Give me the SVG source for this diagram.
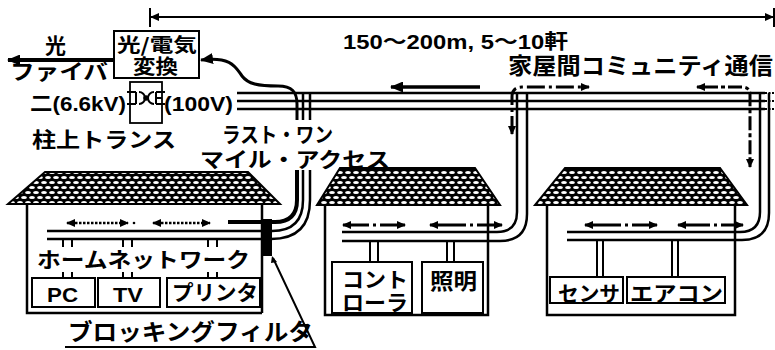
<svg xmlns="http://www.w3.org/2000/svg" width="775" height="350" viewBox="0 0 775 350">
  <defs>
    <pattern id="tile" width="8" height="10" patternUnits="userSpaceOnUse">
      <rect width="8" height="10" fill="#000"/>
      <ellipse cx="4" cy="2.5" rx="2.9" ry="1.5" fill="#fff"/>
      <ellipse cx="0" cy="7.5" rx="2.9" ry="1.5" fill="#fff"/>
      <ellipse cx="8" cy="7.5" rx="2.9" ry="1.5" fill="#fff"/>
    </pattern>
    <marker id="ah" markerUnits="userSpaceOnUse" markerWidth="13" markerHeight="11" refX="12" refY="5.5" orient="auto-start-reverse">
      <path d="M0,0 L13,5.5 L0,11 z" fill="#000"/>
    </marker>
    <marker id="ahs" markerUnits="userSpaceOnUse" markerWidth="9" markerHeight="8" refX="8" refY="4" orient="auto-start-reverse">
      <path d="M0,0 L9,4 L0,8 z" fill="#000"/>
    </marker>
    <style>
      .t { font-family: "Liberation Sans", "Noto Sans CJK JP", sans-serif; font-weight: bold; fill: #000; }
      .j { font-family: "Noto Sans CJK JP", sans-serif; font-weight: bold; fill: #000; }
      .ln { fill: none; stroke: #000; stroke-width: 2.5; }
      .thin { fill: none; stroke: #000; stroke-width: 2; }
      .box { fill: #fff; stroke: #000; stroke-width: 2; }
      .roof { fill: url(#tile); stroke: #000; stroke-width: 2; }
      .dot2 { fill: none; stroke: #000; stroke-width: 2.5; stroke-dasharray: 2.5 1.5; }
      .dd { fill: none; stroke: #000; stroke-width: 3; }
    </style>
  </defs>
  <rect width="775" height="350" fill="#fff"/>

  <!-- span dimension -->
  <g id="span">
    <line x1="150" y1="8" x2="150" y2="27" class="thin"/>
    <line x1="774" y1="8" x2="774" y2="27" class="thin"/>
    <line x1="151" y1="17" x2="773" y2="17" class="thin" marker-start="url(#ahs)" marker-end="url(#ahs)"/>
    <text class="t" x="343" y="49" font-size="20" textLength="225" lengthAdjust="spacingAndGlyphs">150～200m, 5～10軒</text>
  </g>

  <text class="j" x="508" y="74" font-size="23" textLength="265" lengthAdjust="spacingAndGlyphs">家屋間コミュニティ通信</text>

  <!-- optical / electrical converter -->
  <g id="converter">
    <rect x="114" y="31" width="85" height="47" class="box"/>
    <text class="j" x="117" y="52" font-size="19" textLength="80" lengthAdjust="spacingAndGlyphs">光/電気</text>
    <text class="j" x="133" y="74" font-size="20" textLength="45" lengthAdjust="spacingAndGlyphs">変換</text>
  </g>

  <!-- optical fibre -->
  <g id="fiber">
    <line x1="113" y1="60" x2="8" y2="60" stroke="#000" stroke-width="4" marker-end="url(#ah)"/>
    <text class="j" x="45" y="53" font-size="21">光</text>
    <text class="j" x="10" y="79" font-size="21" textLength="98" lengthAdjust="spacingAndGlyphs">ファイバ</text>
  </g>

  <!-- pole transformer -->
  <g id="transformer">
    <text class="t" x="30" y="111" font-size="20" textLength="96" lengthAdjust="spacingAndGlyphs">二(6.6kV)</text>
    <rect x="130" y="82" width="32" height="41" fill="none" stroke="#000" stroke-width="1.8"/>
    <path d="M127,92 H136 M127,104 H136 M136,92 V104" class="thin"/>
    <path d="M139,92 A6,6 0 0 1 139,104" class="thin"/>
    <circle cx="146" cy="98" r="2.8" fill="#000"/>
    <path d="M154,92 A6,6 0 0 0 154,104" class="thin"/>
    <path d="M156,92 V104 M156,92 H165 M156,98 H162 M156,104 H165" class="thin"/>
    <text class="t" x="164" y="111" font-size="20" textLength="69" lengthAdjust="spacingAndGlyphs">(100V)</text>
    <text class="j" x="32" y="147" font-size="21" textLength="144" lengthAdjust="spacingAndGlyphs">柱上トランス</text>
  </g>

  <!-- low-voltage distribution line -->
  <g id="lines">
    <path d="M237,93 H765 M237,101 H765 M237,109 H765" class="ln"/>
    <path d="M765,93 H775 M765,101 H775 M765,109 H775" fill="none" stroke="#000" stroke-width="2" stroke-dasharray="2 1.5"/>
  </g>

  <text class="j" x="222" y="142" font-size="21" textLength="111" lengthAdjust="spacingAndGlyphs">ラスト・ワン</text>
  <text class="j" x="200" y="167" font-size="21" textLength="190" lengthAdjust="spacingAndGlyphs">マイル・アクセス</text>

  <!-- house on the left: home network -->
  <g id="house-left">
    <polygon points="45,172 248,172 280,204 8,204" class="roof"/>
    <path d="M27,204 V313 H262 M262,204 V313" class="ln"/>
    <line x1="67" y1="223" x2="128" y2="223" class="dot2" marker-start="url(#ahs)" marker-end="url(#ahs)"/>
    <circle cx="134" cy="223" r="1.3" fill="#000"/>
    <line x1="153" y1="223" x2="210" y2="223" class="dot2" marker-start="url(#ahs)" marker-end="url(#ahs)"/>
    <path d="M63,239 V247 M72,239 V247 M123,239 V247 M132,239 V247 M208,239 V247 M217,239 V247" class="thin"/>
    <text class="j" x="37" y="267" font-size="21" textLength="213" lengthAdjust="spacingAndGlyphs">ホームネットワーク</text>
    <path d="M63,272 V278 M72,272 V278 M123,272 V278 M132,272 V278 M208,272 V278 M217,272 V278" class="thin"/>
    <rect x="32" y="278" width="63" height="29" class="box"/>
    <rect x="98" y="278" width="62" height="29" class="box"/>
    <rect x="167" y="278" width="93" height="29" class="box"/>
    <text class="t" x="47" y="302" font-size="21" textLength="31" lengthAdjust="spacingAndGlyphs">PC</text>
    <text class="t" x="113" y="302" font-size="21" textLength="30" lengthAdjust="spacingAndGlyphs">TV</text>
    <text class="j" x="172" y="300" font-size="21" textLength="86" lengthAdjust="spacingAndGlyphs">プリンタ</text>
  </g>

  <!-- blocking filter -->
  <g id="filter">
    <rect x="261" y="219" width="11" height="37" fill="#000"/>
    <path d="M273,258 L315,347 H65" class="thin"/>
    <path d="M272,256 L277,262 L271,263 z" fill="#000"/>
    <text class="j" x="68" y="340" font-size="23" textLength="245" lengthAdjust="spacingAndGlyphs">ブロッキングフィルタ</text>
  </g>

  <!-- house in the middle -->
  <g id="house-mid">
    <polygon points="340,168 475,168 500,205 317,205" class="roof"/>
    <path d="M325,205 V315 H488 V205" class="ln"/>
    <line x1="343" y1="225" x2="405" y2="225" class="dd" stroke-dasharray="26 4 3 4 25" marker-start="url(#ahs)" marker-end="url(#ahs)"/>
    <line x1="430" y1="225" x2="502" y2="225" class="dd" stroke-dasharray="36 4 3 4 25" marker-start="url(#ahs)" marker-end="url(#ahs)"/>
    <path d="M370,241 V262 M378,241 V262 M447,241 V262 M454,241 V262" class="thin"/>
    <rect x="332" y="262" width="80" height="51" class="box"/>
    <rect x="422" y="262" width="61" height="51" class="box"/>
    <text class="j" x="342" y="287" font-size="21" textLength="66" lengthAdjust="spacingAndGlyphs">コント</text>
    <text class="j" x="342" y="310" font-size="21" textLength="66" lengthAdjust="spacingAndGlyphs">ローラ</text>
    <text class="j" x="430" y="289" font-size="22" textLength="47" lengthAdjust="spacingAndGlyphs">照明</text>
  </g>

  <!-- house on the right -->
  <g id="house-right">
    <polygon points="565,168 720,168 747,205 535,205" class="roof"/>
    <path d="M547,205 V315 H735 V205" class="ln"/>
    <line x1="585" y1="225" x2="657" y2="225" class="dd" stroke-dasharray="36 4 3 4 25" marker-start="url(#ahs)" marker-end="url(#ahs)"/>
    <line x1="678" y1="225" x2="743" y2="225" class="dd" stroke-dasharray="32 4 3 4 22" marker-start="url(#ahs)" marker-end="url(#ahs)"/>
    <path d="M597,240 V277 M603,240 V277 M672,240 V277 M678,240 V277" class="thin"/>
    <rect x="550" y="277" width="73" height="26" class="box"/>
    <rect x="627" y="277" width="98" height="26" class="box"/>
    <text class="j" x="558" y="301" font-size="21" textLength="62" lengthAdjust="spacingAndGlyphs">センサ</text>
    <text class="j" x="630" y="301" font-size="21" textLength="93" lengthAdjust="spacingAndGlyphs">エアコン</text>
  </g>

  <!-- service drops and signal paths -->
  <g id="connectors">
    <!-- converter to last-mile drop -->
    <path d="M201,60 C232,56 236,68 242,76 C248,84 258,86 278,86 C292,86 297,92 297,104 V120" fill="none" stroke="#000" stroke-width="3" marker-start="url(#ah)"/>
    <path d="M303,93 V120 M310,93 V120" class="ln"/>
    <!-- drop into the left house -->
    <path d="M297,170 V200 Q297,222 275,222 H228" fill="none" stroke="#000" stroke-width="4"/>
    <path d="M303,170 V200 Q303,231 272,231 H47" class="ln"/>
    <path d="M310,170 V200 Q310,239 271,239 H47" class="ln"/>
    <!-- drop into the middle house -->
    <path d="M342,232 H497 Q517,232 517,212 V93" class="ln"/>
    <path d="M342,241 H500 Q527,241 527,214 V93" class="ln"/>
    <!-- drop into the right house -->
    <path d="M567,232 H740 Q760,232 760,212 V93" class="ln"/>
    <path d="M567,240 H742 Q769,240 769,213 V93" class="ln"/>
    <!-- inter-house signals -->
    <line x1="480" y1="87" x2="391" y2="87" stroke="#000" stroke-width="3.5" marker-end="url(#ah)"/>
    <path d="M512,134 V97 Q512,87 522,87 H589" class="dd" stroke-dasharray="18 4 3 4" marker-start="url(#ahs)" marker-end="url(#ahs)"/>
    <path d="M697,87 H742 Q750,87 750,95 V167" class="dd" stroke-dasharray="4 3 14 3" marker-start="url(#ahs)" marker-end="url(#ahs)"/>
  </g>
</svg>
